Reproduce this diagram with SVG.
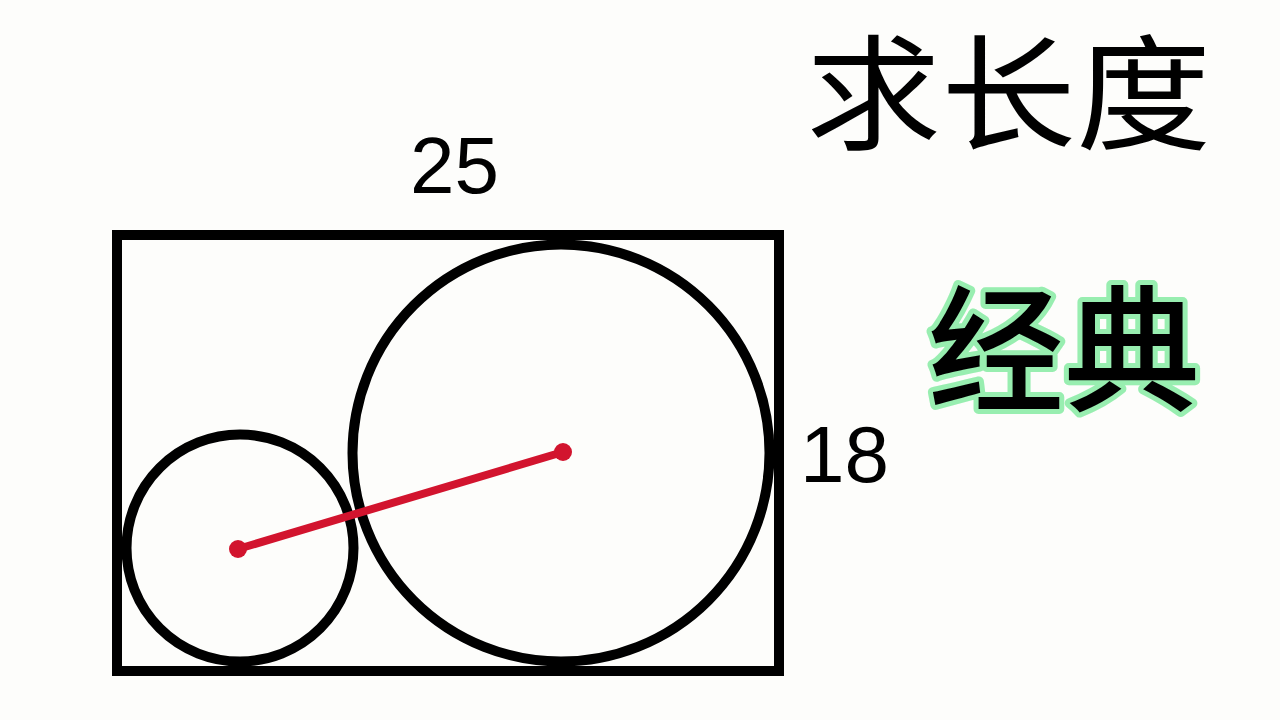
<svg xmlns="http://www.w3.org/2000/svg" width="1280" height="720" viewBox="0 0 1280 720">
<style>
.ln{fill:none;stroke:#000;stroke-width:10}
.num{font-family:"Liberation Sans",Arial,sans-serif;font-size:80px;fill:#000}
.cjk{font-family:"Noto Sans CJK SC","Noto Sans",sans-serif;fill:#000}
</style>
<rect width="1280" height="720" fill="#fdfdfb"/>
<g id="rect"><rect class="ln" x="117" y="235" width="662" height="436"/></g>
<g id="small-circle"><circle class="ln" cx="240" cy="548" r="113.5" stroke-width="9"/></g>
<g id="big-circle"><circle class="ln" cx="561" cy="453" r="208.5" stroke-width="9"/></g>
<g id="connectors">
<line x1="238" y1="549" x2="563" y2="452" stroke="#d2142e" stroke-width="8" stroke-linecap="round"/>
<circle cx="238" cy="549" r="9" fill="#d2142e"/>
<circle cx="563" cy="452" r="9" fill="#d2142e"/>
</g>
<g id="labels">
<text class="num" x="410" y="193">25</text>
<text class="num" x="800" y="482">18</text>
<text class="cjk" transform="translate(806,140) scale(1.08,1)" font-size="125">求长度</text>
<text class="cjk" x="928" y="401" font-size="136" font-weight="500" stroke="#98eeb0" stroke-width="10" stroke-linejoin="round" paint-order="stroke">经典</text>
</g>
</svg>
